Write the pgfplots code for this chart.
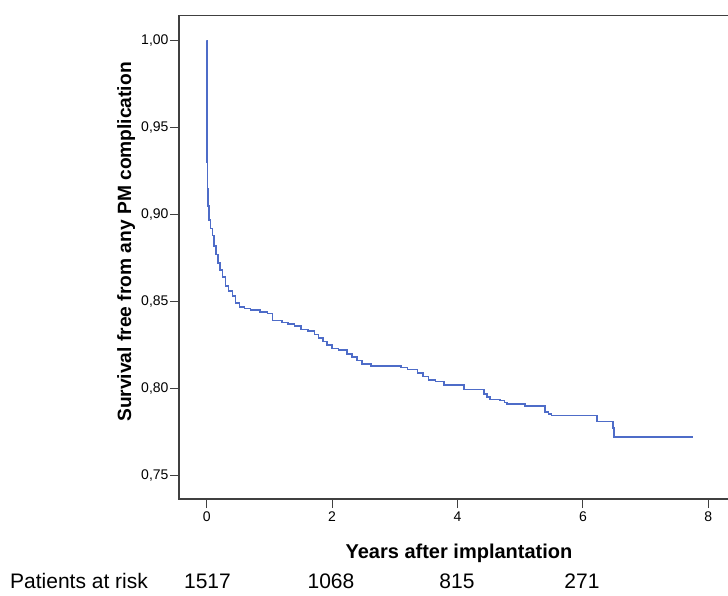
\documentclass[border=0pt]{standalone}
\usepackage{pgfplots}
\pgfplotsset{compat=1.18}
\usepackage{fontspec}
\setmainfont{Liberation Sans}
\definecolor{kmblue}{RGB}{78,108,200}
\begin{document}
\begin{tikzpicture}[x=1pt,y=1pt]
\useasboundingbox (0,0) rectangle (728,595);
\begin{axis}[
  at={(179pt,96pt)}, anchor=south west,
  scale only axis, width=551pt, height=483.3pt,
  xmin=-0.442, xmax=8.346, ymin=0.7365, ymax=1.01425,
  xtick={0,2,4,6,8}, xticklabels={0,2,4,6,8},
  ytick={0.75,0.80,0.85,0.90,0.95,1.00},
  yticklabels={{0,75},{0,80},{0,85},{0,90},{0,95},{1,00}},
  xtick pos=lower, ytick pos=left,
  tick align=outside, major tick length=9pt,
  tick style={black!75, line width=1.1pt},
  axis line style={black!75, line width=1.2pt},
  ticklabel style={font=\fontsize{14}{16}\selectfont},
  yticklabel style={xshift=2pt},
  /pgf/number format/assume math mode=true,
]
\addplot[const plot, color=kmblue, line width=1.6pt] coordinates {
(0,1.000) (0.002,0.930) (0.01,0.915) (0.02,0.905) (0.04,0.897) (0.06,0.892)
(0.09,0.888) (0.12,0.882) (0.15,0.877) (0.18,0.872) (0.21,0.868) (0.25,0.864)
(0.30,0.859) (0.35,0.856) (0.41,0.853) (0.46,0.849) (0.52,0.847) (0.60,0.846)
(0.70,0.845) (0.85,0.844) (0.97,0.843) (1.05,0.839) (1.20,0.838) (1.30,0.837)
(1.40,0.836) (1.50,0.834) (1.62,0.833) (1.72,0.831) (1.78,0.829) (1.85,0.827)
(1.92,0.825) (2.00,0.823) (2.10,0.822) (2.24,0.820) (2.32,0.818) (2.40,0.816)
(2.48,0.814) (2.62,0.813) (3.10,0.812) (3.20,0.811) (3.36,0.809) (3.45,0.807)
(3.54,0.805) (3.65,0.804) (3.78,0.802) (4.10,0.7994) (4.42,0.797) (4.47,0.795)
(4.52,0.7937) (4.68,0.793) (4.75,0.792) (4.79,0.791) (5.08,0.790) (5.40,0.7864)
(5.45,0.7855) (5.50,0.7845) (6.22,0.781) (6.48,0.7774) (6.50,0.7722) (7.75,0.7722)
};
\end{axis}
\node[anchor=base, font=\fontsize{20}{24}\selectfont\bfseries] at (459,36.5) {Years after implantation};
\node[anchor=base, rotate=90, font=\fontsize{19.2}{23}\selectfont\bfseries] at (131,353) {Survival free from any PM complication};
\node[anchor=base west, inner sep=0pt, font=\fontsize{21}{24}\selectfont] at (10,6.5) {Patients at risk};
\node[anchor=base, inner sep=0pt, font=\fontsize{21}{24}\selectfont] at (207.5,6.5) {1517};
\node[anchor=base, inner sep=0pt, font=\fontsize{21}{24}\selectfont] at (331,6.5) {1068};
\node[anchor=base, inner sep=0pt, font=\fontsize{21}{24}\selectfont] at (457,6.5) {815};
\node[anchor=base, inner sep=0pt, font=\fontsize{21}{24}\selectfont] at (582,6.5) {271};
\end{tikzpicture}
\end{document}
